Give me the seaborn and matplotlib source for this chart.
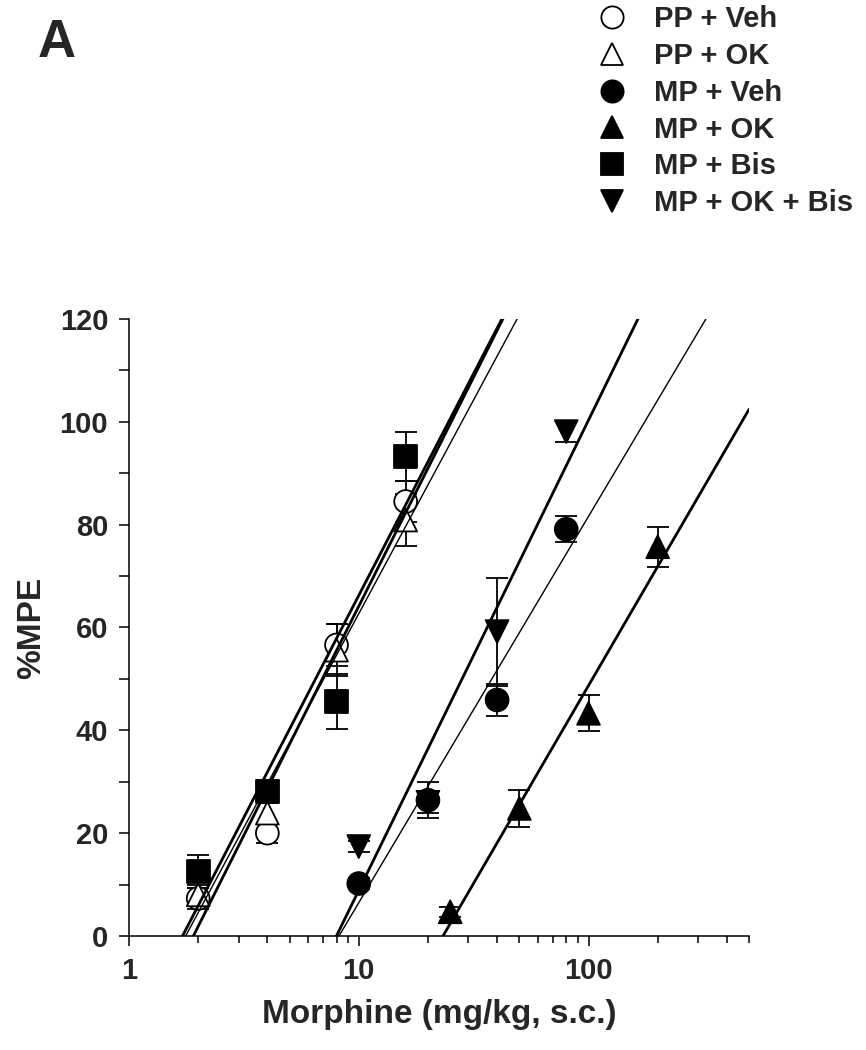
import numpy as np
import pandas as pd
import matplotlib
matplotlib.use('Agg')
import matplotlib.pyplot as plt
from matplotlib.lines import Line2D
from matplotlib.ticker import FixedLocator, LogLocator, NullFormatter, FuncFormatter
import seaborn as sns

sns.set_style('ticks')
plt.rcParams['font.family'] = ['Liberation Sans', 'DejaVu Sans']
plt.rcParams['font.weight'] = 'bold'

# data (mean %MPE and SEM)
groups = ['PP + Veh', 'PP + OK', 'MP + Veh', 'MP + OK', 'MP + Bis', 'MP + OK + Bis']

pp_doses = [2, 4, 8, 16]
mp_doses = [10, 20, 40, 80]
mp_ok_doses = [25, 50, 100, 200]

pp_veh = [7.3, 20.0, 56.6, 84.5]
pp_veh_sem = [2.0, 2.0, 4.0, 4.0]
pp_ok = [8.0, 23.9, 55.6, 80.9]
pp_ok_sem = [2.0, 3.0, 5.0, 5.0]
mp_veh = [10.2, 26.4, 45.9, 79.1]
mp_veh_sem = [1.0, 3.5, 3.2, 2.5]
mp_ok = [4.7, 24.8, 43.3, 75.7]
mp_ok_sem = [1.0, 3.6, 3.5, 3.9]
mp_bis = [12.5, 28.1, 45.6, 93.3]
mp_bis_sem = [3.2, 2.2, 5.4, 4.8]
mp_ok_bis = [17.4, 26.0, 59.2, 98.1]
mp_ok_bis_sem = [1.0, 2.0, 10.5, 2.1]

doses = [pp_doses, pp_doses, mp_doses, mp_ok_doses, pp_doses, mp_doses]
means = [pp_veh, pp_ok, mp_veh, mp_ok, mp_bis, mp_ok_bis]
sems = [pp_veh_sem, pp_ok_sem, mp_veh_sem, mp_ok_sem, mp_bis_sem, mp_ok_bis_sem]

markers = {'PP + Veh': 'o', 'PP + OK': '^', 'MP + Veh': 'o',
           'MP + OK': '^', 'MP + Bis': 's', 'MP + OK + Bis': 'v'}
fills = {'PP + Veh': 'white', 'PP + OK': 'white', 'MP + Veh': 'black',
         'MP + OK': 'black', 'MP + Bis': 'black', 'MP + OK + Bis': 'black'}
line_w = {'PP + Veh': 2.0, 'PP + OK': 1.0, 'MP + Veh': 1.0,
          'MP + OK': 2.0, 'MP + Bis': 2.0, 'MP + OK + Bis': 2.0}

df = pd.DataFrame({
    'group': np.repeat(groups, 4),
    'dose': np.concatenate(doses),
    'mpe': np.concatenate(means),
    'sem': np.concatenate(sems),
})

fig = plt.figure(figsize=(8.66, 10.5), dpi=100)
ax = fig.add_axes([0.149, 0.1086, 0.716, 0.5876])
ax.set_xscale('log')
ax.set_xlim(1, 500)
ax.set_ylim(0, 120)

# error bars
ax.errorbar(df['dose'], df['mpe'], yerr=df['sem'], fmt='none', ecolor='black',
            elinewidth=1.3, capsize=8, capthick=1.3, zorder=2)

# symbols
sns.scatterplot(data=df, x='dose', y='mpe', hue='group', style='group',
                markers=markers, palette=fills, hue_order=groups,
                s=270, edgecolor='black', linewidth=1.3, legend=False,
                zorder=3, ax=ax)

# log-linear regression lines
for g in groups:
    sub = df[df['group'] == g]
    sns.regplot(data=sub, x='dose', y='mpe', logx=True, ci=None, scatter=False,
                truncate=False, color='black',
                line_kws=dict(lw=line_w[g], zorder=4), ax=ax)

ax.set_xlim(1, 500)
ax.set_ylim(0, 120)
sns.despine(ax=ax)
for sp in ['left', 'bottom']:
    ax.spines[sp].set_linewidth(1.1)
    ax.spines[sp].set_color('black')

ax.yaxis.set_major_locator(FixedLocator([0, 20, 40, 60, 80, 100, 120]))
ax.yaxis.set_minor_locator(FixedLocator([10, 30, 50, 70, 90, 110]))
ax.xaxis.set_major_locator(LogLocator(base=10))
ax.xaxis.set_minor_locator(LogLocator(base=10, subs=np.arange(2, 10)))
ax.xaxis.set_major_formatter(FuncFormatter(lambda v, p: f'{v:g}'))
ax.xaxis.set_minor_formatter(NullFormatter())
ax.tick_params(axis='both', which='major', length=7, width=1.1, color='black',
               labelsize=21, pad=8)
ax.tick_params(axis='y', which='minor', length=7, width=1.1, color='black')
ax.tick_params(axis='x', which='minor', length=5, width=1.1, color='black')
for lab in ax.get_xticklabels() + ax.get_yticklabels():
    lab.set_fontweight('bold')

ax.set_xlabel('Morphine (mg/kg, s.c.)', fontsize=24, fontweight='bold', labelpad=10)
ax.set_ylabel('%MPE', fontsize=24, fontweight='bold', labelpad=9)

fig.text(0.043, 0.983, 'A', fontsize=38, fontweight='bold', va='top', ha='left')

handles = [Line2D([], [], marker=markers[g], linestyle='none', markersize=16,
                  markerfacecolor=fills[g], markeredgecolor='black',
                  markeredgewidth=1.3) for g in groups]
fig.legend(handles, groups, loc='upper left', bbox_to_anchor=(0.69, 0.995),
           frameon=False, handlelength=1.0, handletextpad=0.95,
           labelspacing=0.3, borderpad=0, borderaxespad=0,
           prop=dict(weight='bold', size=21))

fig.savefig('out.png', dpi=100)
